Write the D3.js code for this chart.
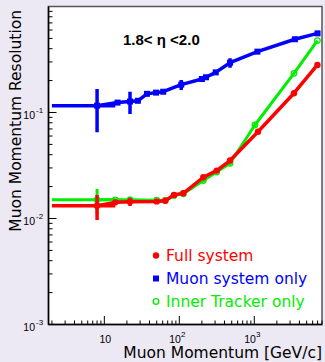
<!DOCTYPE html>
<html>
<head>
<meta charset="utf-8">
<script src="https://cdn.jsdelivr.net/npm/d3@7"></script>
<style>
  body { margin: 0; background: #ece8f4; }
  svg { display: block; }
</style>
</head>
<body>
<script>
// Muon system only (blue squares)
const muonP   = [8, 15, 22, 28, 37, 49, 61, 106, 200, 227, 306, 475, 1100, 3480, 6980];
const muonRes = [0.116, 0.124, 0.127, 0.129, 0.150, 0.154, 0.157, 0.183, 0.207, 0.215, 0.239, 0.295, 0.375, 0.491, 0.558];
const muonErr = [0.051, 0, 0.03, 0, 0, 0, 0, 0.02, 0, 0, 0, 0.03, 0, 0, 0];

// Full system (red dots)
const fullP   = [8, 14, 22, 50, 65, 85, 113, 209, 315, 475, 1120, 3380, 6950];
const fullRes = [0.0132, 0.0142, 0.0144, 0.0145, 0.0147, 0.0167, 0.0173, 0.0245, 0.0283, 0.0352, 0.0659, 0.152, 0.281];
const fullErr = [0.0035, 0, 0.0013, 0, 0, 0, 0, 0.001, 0, 0.0015, 0.003, 0, 0];

// Inner Tracker only (green open circles)
const trkP   = [8, 14, 22, 50, 65, 85, 113, 209, 315, 475, 1020, 3380, 6950];
const trkRes = [0.0150, 0.0150, 0.0150, 0.0149, 0.0148, 0.0165, 0.0171, 0.0228, 0.0275, 0.0332, 0.0762, 0.234, 0.477];
const trkErr = [0.004, 0, 0.001, 0, 0, 0, 0, 0.001, 0, 0.0015, 0.004, 0, 0];

const xErrFirst = 6; // horizontal error on the first point (GeV)

const xTicks = [10, 100, 1000];
const yTicks = [0.001, 0.01, 0.1];
const legendItems = ["Full system", "Muon system only", "Inner Tracker only"];

let width = 325, height = 362;
let svg = d3.select("body").append("svg").attr("width", width).attr("height", height);

let x = d3.scaleLog().domain([1.8, 8000]).range([48.5, 322]);
let y = d3.scaleLog().domain([0.001, 1]).range([324.5, 6.5]);

// frame
svg.append("rect").attr("x", 48.5).attr("y", 6.5).attr("width", 273.5).attr("height", 318)
  .attr("fill", "white").attr("stroke", "#555").attr("stroke-width", 1.5);

let plot = svg.append("g");
plot.append("clipPath").attr("id", "clip").append("rect")
  .attr("x", 48.5).attr("y", 6.5).attr("width", 273.5).attr("height", 318);

function drawSeries(ps, vals, errs, color, lw) {
  let pts = ps.map((p, i) => ({ p: p, v: vals[i], e: errs[i] }));
  let g = plot.append("g").attr("clip-path", "url(#clip)");
  // x error on first point
  g.append("line")
    .attr("x1", x(pts[0].p - xErrFirst)).attr("x2", x(pts[0].p + xErrFirst))
    .attr("y1", y(pts[0].v)).attr("y2", y(pts[0].v))
    .attr("stroke", color).attr("stroke-width", lw);
  g.selectAll(".eb").data(pts.filter(d => d.e > 0)).join("line")
    .attr("x1", d => x(d.p)).attr("x2", d => x(d.p))
    .attr("y1", d => y(d.v - d.e)).attr("y2", d => y(d.v + d.e))
    .attr("stroke", color).attr("stroke-width", lw);
  g.append("path").datum(pts)
    .attr("d", d3.line().x(d => x(d.p)).y(d => y(d.v)))
    .attr("fill", "none").attr("stroke", color).attr("stroke-width", lw)
    .attr("stroke-linejoin", "round");
  return { g: g, pts: pts };
}

let blue = drawSeries(muonP, muonRes, muonErr, "#0000ff", 3.5);
blue.g.selectAll("rect").data(blue.pts).join("rect")
  .attr("x", d => x(d.p) - 3).attr("y", d => y(d.v) - 3)
  .attr("width", 6).attr("height", 6).attr("fill", "#0000ff");

let green = drawSeries(trkP, trkRes, trkErr, "#00ee00", 3);
green.g.selectAll("circle").data(green.pts).join("circle")
  .attr("cx", d => x(d.p)).attr("cy", d => y(d.v)).attr("r", 2.8)
  .attr("fill", "none").attr("stroke", "#00ee00").attr("stroke-width", 1.3);

let red = drawSeries(fullP, fullRes, fullErr, "#ff0000", 3.5);
red.g.selectAll("circle").data(red.pts).join("circle")
  .attr("cx", d => x(d.p)).attr("cy", d => y(d.v)).attr("r", 3.2)
  .attr("fill", "#ff0000");

// axes ticks (inward)
let ax = svg.append("g").attr("stroke", "black").attr("stroke-width", 1);
let xMinor = [];
for (let dec = 1; dec <= 1000; dec *= 10)
  for (let k = 1; k <= 9; k++) {
    let v = k * dec;
    if (v >= 1.8 && v <= 8000) xMinor.push(v);
  }
ax.selectAll(".xt").data(xMinor).join("line")
  .attr("x1", d => x(d)).attr("x2", d => x(d))
  .attr("y1", 324.5).attr("y2", d => xTicks.includes(d) ? 316 : 320.5);
let yMinor = [];
for (let dec = 0.001; dec < 1; dec *= 10)
  for (let k = 1; k <= 9; k++) yMinor.push(k * dec);
ax.selectAll(".yt").data(yMinor).join("line")
  .attr("y1", d => y(d)).attr("y2", d => y(d))
  .attr("x1", 48.5).attr("x2", (d, i) => i % 9 === 0 ? 56.5 : 52.5);
svg.append("line").attr("x1", 48.5).attr("x2", 48.5).attr("y1", 6.5).attr("y2", 324.5)
  .attr("stroke", "black").attr("stroke-width", 1.5);
svg.append("line").attr("x1", 48.5).attr("x2", 322).attr("y1", 324.5).attr("y2", 324.5)
  .attr("stroke", "black").attr("stroke-width", 1.5);

// tick labels
const tickFont = "Liberation Sans, Arial, sans-serif";
xTicks.forEach(t => {
  let exp = Math.round(Math.log10(t));
  let txt = svg.append("text").attr("x", x(t) + (exp > 1 ? -2 : 1)).attr("y", 343)
    .attr("text-anchor", "middle").attr("font-family", tickFont).attr("font-size", 10.5);
  txt.append("tspan").text("10");
  if (exp > 1) txt.append("tspan").attr("dy", -6).attr("font-size", 8).text(exp);
});
yTicks.forEach(t => {
  let exp = Math.round(Math.log10(t));
  let txt = svg.append("text").attr("x", 35).attr("y", y(t) + 6)
    .attr("text-anchor", "end").attr("font-family", tickFont).attr("font-size", 10.5);
  txt.text("10");
  svg.append("text").attr("x", 36).attr("y", y(t) + 0)
    .attr("font-family", tickFont).attr("font-size", 8).text(exp);
});

// axis titles
const titleFont = "DejaVu Sans, sans-serif";
svg.append("text").attr("x", 322).attr("y", 358).attr("text-anchor", "end")
  .attr("font-family", titleFont).attr("font-size", 15.5).text("Muon Momentum [GeV/c]");
svg.append("text").attr("transform", "translate(21,10) rotate(-90)").attr("text-anchor", "end")
  .attr("font-family", titleFont).attr("font-size", 15.5).text("Muon Momentum Resolution");

// eta label
svg.append("text").attr("x", 123).attr("y", 45)
  .attr("font-family", "Liberation Sans, Arial, sans-serif").attr("font-weight", "bold")
  .attr("font-size", 15).text("1.8< η <2.0");

// legend
const legendColors = ["#ff0000", "#0000ff", "#00ee00"];
const legendY = [255.5, 278.5, 301.5];
legendItems.forEach((name, i) => {
  if (i === 0) svg.append("circle").attr("cx", 156).attr("cy", legendY[i]).attr("r", 3.2).attr("fill", legendColors[i]);
  if (i === 1) svg.append("rect").attr("x", 153).attr("y", legendY[i] - 3).attr("width", 6).attr("height", 6).attr("fill", legendColors[i]);
  if (i === 2) svg.append("circle").attr("cx", 156).attr("cy", legendY[i]).attr("r", 2.8)
    .attr("fill", "none").attr("stroke", legendColors[i]).attr("stroke-width", 1.3);
  svg.append("text").attr("x", 166).attr("y", legendY[i] + 5.3)
    .attr("font-family", titleFont).attr("font-size", 15.5).attr("fill", legendColors[i]).text(name);
});
</script>
</body>
</html>
